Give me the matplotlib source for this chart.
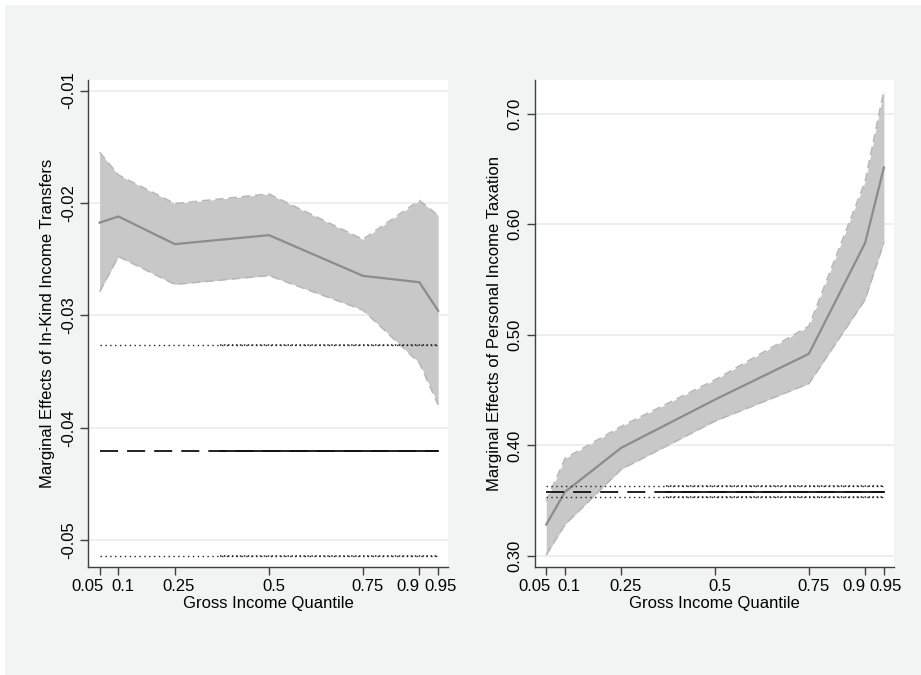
import numpy as np
import matplotlib.pyplot as plt
from matplotlib.patches import Rectangle

plt.rcParams['font.family'] = ['Liberation Sans', 'DejaVu Sans']

# Quantiles della distribuzione del reddito lordo
quantiles = [0.05, 0.1, 0.25, 0.5, 0.75, 0.9, 0.95]
xtick_labels = ["0.05", "0.1", "0.25", "0.5", "0.75", "0.9", "0.95"]

# Pannello sinistro: trasferimenti in natura
inkind_est = [-0.02175, -0.0212, -0.02366, -0.02286, -0.02648, -0.02705, -0.02959]
inkind_hi = [-0.0155, -0.01752, -0.02006, -0.0192, -0.02324, -0.01978, -0.02111]
inkind_lo = [-0.02789, -0.02476, -0.02724, -0.02645, -0.02952, -0.03422, -0.03794]
inkind_ols = -0.04207
inkind_ols_hi = -0.03264
inkind_ols_lo = -0.05138
inkind_yticks = [-0.01, -0.02, -0.03, -0.04, -0.05]
inkind_yticklabels = ["-0.01", "-0.02", "-0.03", "-0.04", "-0.05"]

# Pannello destro: tassazione personale
tax_est = [0.3285, 0.358, 0.3979, 0.4415, 0.4829, 0.5832, 0.6514]
tax_hi = [0.3494, 0.3882, 0.4172, 0.4593, 0.5078, 0.6386, 0.7209]
tax_lo = [0.301, 0.3285, 0.3785, 0.4221, 0.456, 0.532, 0.5836]
tax_ols = 0.3581
tax_ols_hi = 0.363
tax_ols_lo = 0.3537
tax_yticks = [0.30, 0.40, 0.50, 0.60, 0.70]
tax_yticklabels = ["0.30", "0.40", "0.50", "0.60", "0.70"]

# tratto in cui la linea OLS e' disegnata "piena" (sovrapposizione di segmenti)
ols_start, ols_dense, ols_end = 0.05, 0.37, 0.95

# spostamento orizzontale (px) delle etichette x, come nell'originale
label_shift_px = [-12, 4, 4, 5, 5, -11, 2]

bg_color = "#f2f3f3"
band_color = "#c8c8c9"
edge_color = "#b8b8b8"
est_color = "#8c8c8c"
axis_color = "#404040"


def draw_panel(ax, est, hi, lo, ols, ols_hi, ols_lo, ylim, yticks, yticklabels, ylabel):
    ax.set_facecolor("white")
    for yt in yticks:
        ax.axhline(yt, color="#eeeeee", lw=1.4, zorder=0)

    ax.fill_between(quantiles, lo, hi, color=band_color, lw=0, zorder=1)
    ax.plot(quantiles, hi, color=edge_color, lw=1.2, dashes=(5, 3), zorder=2)
    ax.plot(quantiles, lo, color=edge_color, lw=1.2, dashes=(5, 3), zorder=2)
    ax.plot(quantiles, est, color=est_color, lw=1.6, zorder=3)

    # linea OLS e intervallo
    ax.plot([ols_start, ols_end], [ols, ols], color="#111111", lw=1.3, dashes=(10, 5), zorder=4)
    ax.plot([ols_dense, ols_end], [ols, ols], color="#111111", lw=1.3, zorder=4)
    for yv in (ols_hi, ols_lo):
        ax.plot([ols_start, ols_end], [yv, yv], color="#222222", lw=1.0, dashes=(1, 2.5), zorder=4)
        ax.plot([ols_dense, ols_end], [yv, yv], color="#222222", lw=1.1, dashes=(1, 1.6), zorder=4)

    ax.set_xlim(0.02, 0.977)
    ax.set_ylim(*ylim)
    ax.set_xticks(quantiles)
    ax.set_xticklabels([])
    # etichette x scritte a mano per poterle spostare come nell'originale
    for q, lab, dx in zip(quantiles, xtick_labels, label_shift_px):
        ax.annotate(lab, xy=(q, 0), xycoords=("data", "axes fraction"),
                    xytext=(dx, -20), textcoords="offset pixels",
                    ha="center", va="center", fontsize=12, annotation_clip=False)
    ax.text(0.5, -37 / 487.0, "Gross Income Quantile", transform=ax.transAxes, fontsize=12,
            ha="center", va="center")
    ax.set_yticks(yticks)
    ax.set_yticklabels(yticklabels, fontsize=12, rotation=90, va="center")
    ax.set_ylabel(ylabel, fontsize=12, labelpad=4)
    for side in ("top", "right"):
        ax.spines[side].set_visible(False)
    for side in ("left", "bottom"):
        ax.spines[side].set_color(axis_color)
        ax.spines[side].set_linewidth(1.0)
    ax.tick_params(direction="out", length=6, width=1.0, color=axis_color, pad=3)


fig = plt.figure(figsize=(9.21, 6.75), dpi=100, facecolor="white")
fig.patches.append(Rectangle((5 / 921, 0), 1, (675 - 5) / 675, transform=fig.transFigure,
                             facecolor=bg_color, edgecolor="none", zorder=-10))

ax1 = fig.add_axes([0.0959, 0.1604, 0.3909, 0.7218])
ax2 = fig.add_axes([0.5809, 0.1604, 0.3898, 0.7218])

draw_panel(ax1, inkind_est, inkind_hi, inkind_lo, inkind_ols, inkind_ols_hi, inkind_ols_lo,
           (-0.05235, -0.00902), inkind_yticks, inkind_yticklabels,
           "Marginal Effects of In-Kind Income Transfers")
draw_panel(ax2, tax_est, tax_hi, tax_lo, tax_ols, tax_ols_hi, tax_ols_lo,
           (0.2903, 0.731), tax_yticks, tax_yticklabels,
           "Marginal Effects of Personal Income Taxation")

fig.savefig("out.png", dpi=100, facecolor=fig.get_facecolor())
